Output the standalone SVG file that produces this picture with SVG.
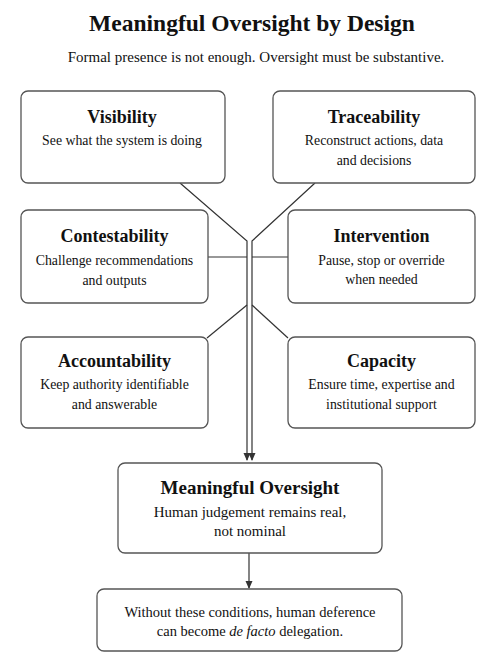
<svg xmlns="http://www.w3.org/2000/svg" width="499" height="666" viewBox="0 0 499 666">
<style>
.box{fill:#fff;stroke:#555;stroke-width:1.3}
.t{font-family:"Liberation Serif","DejaVu Serif",serif;fill:#111;text-anchor:middle}
.h{font-weight:bold;font-size:18px}
.s{font-size:13.8px}
.ln{fill:none;stroke:#333;stroke-width:1.2}
</style>
<defs>
<marker id="ah" markerWidth="8" markerHeight="8" refX="7" refY="4" orient="auto" markerUnits="userSpaceOnUse">
<path d="M0,0.5 L8,4 L0,7.5 z" fill="#333"/>
</marker>
</defs>
<rect width="499" height="666" fill="#fff"/>
<text class="t" x="252" y="31" font-weight="bold" font-size="23.5">Meaningful Oversight by Design</text>
<text class="t" x="256" y="62" font-size="15">Formal presence is not enough. Oversight must be substantive.</text>

<g id="connectors">
<path class="ln" d="M180,183 L247,241 L247,460" marker-end="url(#ah)"/>
<path class="ln" d="M315,183 L252,241 L252,460" marker-end="url(#ah)"/>
<path class="ln" d="M208,257 L247,257"/>
<path class="ln" d="M252,257 L288,257"/>
<path class="ln" d="M207,338 L247,305"/>
<path class="ln" d="M252,305 L288,338"/>
<path class="ln" d="M249,553 L249,588" marker-end="url(#ah)"/>
</g>

<g id="visibility">
<rect class="box" x="21" y="91" width="204" height="92" rx="7"/>
<text class="t h" x="122" y="123">Visibility</text>
<text class="t s" x="122" y="145">See what the system is doing</text>
</g>
<g id="traceability">
<rect class="box" x="273" y="91" width="202" height="92" rx="7"/>
<text class="t h" x="374" y="123">Traceability</text>
<text class="t s" x="374" y="145">Reconstruct actions, data</text>
<text class="t s" x="374" y="165">and decisions</text>
</g>
<g id="contestability">
<rect class="box" x="21" y="210" width="187" height="93" rx="7"/>
<text class="t h" x="114.5" y="242">Contestability</text>
<text class="t s" x="114.5" y="265">Challenge recommendations</text>
<text class="t s" x="114.5" y="285">and outputs</text>
</g>
<g id="intervention">
<rect class="box" x="288" y="210" width="187" height="93" rx="7"/>
<text class="t h" x="381.5" y="242">Intervention</text>
<text class="t s" x="381.5" y="265">Pause, stop or override</text>
<text class="t s" x="381.5" y="284">when needed</text>
</g>
<g id="accountability">
<rect class="box" x="21" y="337" width="187" height="91" rx="7"/>
<text class="t h" x="114.5" y="367">Accountability</text>
<text class="t s" x="114.5" y="389">Keep authority identifiable</text>
<text class="t s" x="114.5" y="409">and answerable</text>
</g>
<g id="capacity">
<rect class="box" x="288" y="337" width="187" height="91" rx="7"/>
<text class="t h" x="381.5" y="367">Capacity</text>
<text class="t s" x="381.5" y="389">Ensure time, expertise and</text>
<text class="t s" x="381.5" y="409">institutional support</text>
</g>
<g id="meaningful-oversight">
<rect class="box" x="118" y="463" width="264" height="90" rx="7"/>
<text class="t" x="250" y="494" font-weight="bold" font-size="19">Meaningful Oversight</text>
<text class="t" x="250" y="517" font-size="15">Human judgement remains real,</text>
<text class="t" x="250" y="536" font-size="15">not nominal</text>
</g>
<g id="conclusion">
<rect class="box" x="97" y="589" width="305" height="62" rx="7"/>
<text class="t" x="250" y="617" font-size="14.5">Without these conditions, human deference</text>
<text class="t" x="250" y="636" font-size="14.5">can become <tspan font-style="italic">de facto</tspan> delegation.</text>
</g>
</svg>
